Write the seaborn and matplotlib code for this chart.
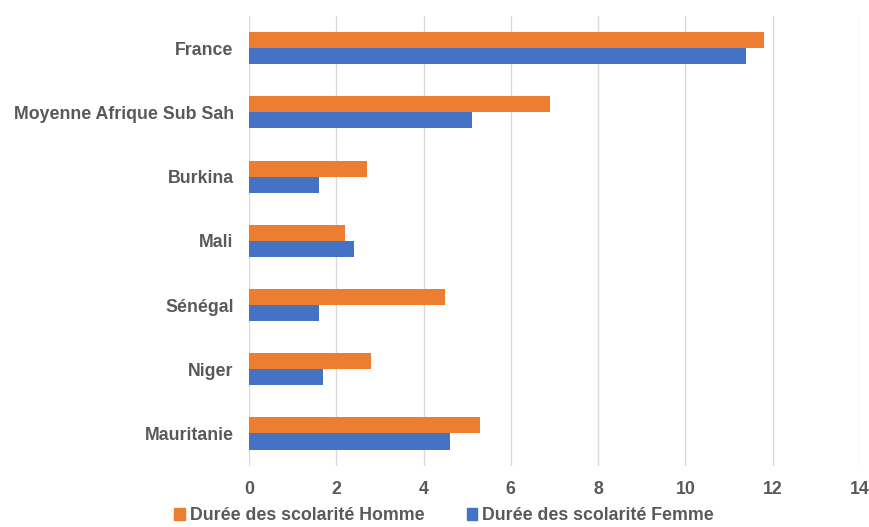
import pandas as pd
import matplotlib.pyplot as plt
import seaborn as sns
from matplotlib.patches import Patch

# Données
pays = ['France', 'Moyenne Afrique Sub Sah', 'Burkina', 'Mali', 'Sénégal', 'Niger', 'Mauritanie']
homme = [11.8, 6.9, 2.7, 2.2, 4.5, 2.8, 5.3]
femme = [11.4, 5.1, 1.6, 2.4, 1.6, 1.7, 4.6]
series = ['Durée des scolarité Homme', 'Durée des scolarité Femme']
ticks_x = [0, 2, 4, 6, 8, 10, 12, 14]

df = pd.DataFrame({'pays': pays, series[0]: homme, series[1]: femme})
df_long = df.melt(id_vars='pays', var_name='serie', value_name='duree')

sns.set_theme(style='white')
plt.rcParams['font.family'] = ['Liberation Sans', 'DejaVu Sans']

couleurs = {series[0]: '#ED7D31', series[1]: '#4472C4'}
gris = '#595959'
taille = 12.8

fig = plt.figure(figsize=(8.69, 5.27), dpi=100)
ax = fig.add_axes([0.2865, 0.1165, 0.703, 0.853])

sns.barplot(data=df_long, x='duree', y='pays', hue='serie', order=pays,
            hue_order=series, palette=couleurs, width=0.5, ax=ax,
            legend=False, edgecolor='none', saturation=1)

ax.set_xlim(0, 14)
ax.set_xticks(ticks_x)
ax.set_xlabel('')
ax.set_ylabel('')
ax.grid(axis='x', color='#d9d9d9', linewidth=1)
ax.set_axisbelow(True)
for s in ax.spines.values():
    s.set_visible(False)
ax.tick_params(axis='both', length=0, labelcolor=gris, labelsize=taille)
ax.tick_params(axis='y', pad=11)
ax.tick_params(axis='x', pad=11)
for lab in ax.get_xticklabels() + ax.get_yticklabels():
    lab.set_fontweight('bold')

handles = [Patch(color=couleurs[s], label=s) for s in series]
leg = fig.legend(handles=handles, loc='lower center', bbox_to_anchor=(0.511, -0.025),
                 ncol=2, frameon=False, handlelength=0.6, handleheight=0.6,
                 handletextpad=0.25, columnspacing=2.4, fontsize=taille)
for t in leg.get_texts():
    t.set_color(gris)
    t.set_fontweight('bold')

plt.savefig('out.png', dpi=100)
